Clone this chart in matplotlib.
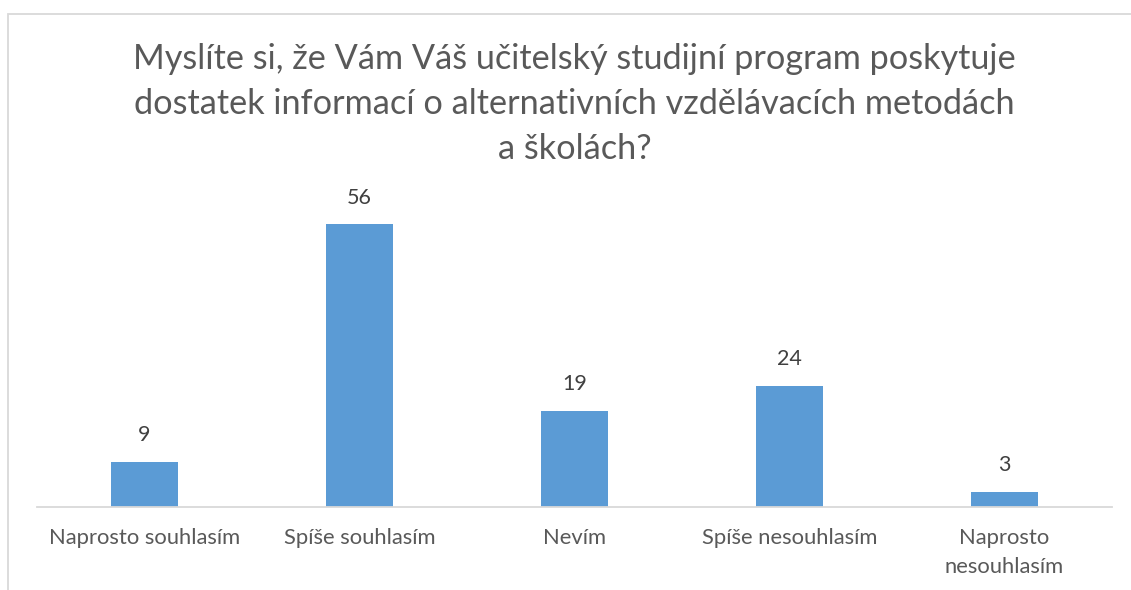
import matplotlib
matplotlib.use("Agg")
import matplotlib.pyplot as plt
from matplotlib.patches import Rectangle

categories = ["Naprosto souhlasím", "Spíše souhlasím", "Nevím", "Spíše nesouhlasím", "Naprosto\nnesouhlasím"]
values = [9, 56, 19, 24, 3]
title = "Myslíte si, že Vám Váš učitelský studijní program poskytuje\ndostatek informací o alternativních vzdělávacích metodách\na školách?"

W, H = 1131, 590
plt.rcParams['font.family'] = ['Lato', 'DejaVu Sans']
fig = plt.figure(figsize=(W/100, H/100), dpi=100)
fig.patch.set_facecolor('white')

ax = fig.add_axes([37/W, 1-507/H, (1112-37)/W, 303/H])
x = list(range(len(categories)))
bars = ax.bar(x, values, width=0.31, color='#5B9BD5', zorder=2)
ax.set_xlim(-0.5, len(categories)-0.5)
ax.set_ylim(0, 60)
for s in ['top', 'right', 'left']:
    ax.spines[s].set_visible(False)
ax.spines['bottom'].set_color('#D9D9D9')
ax.spines['bottom'].set_linewidth(1.3)
ax.set_yticks([])
ax.set_xticks(x)
ax.set_xticklabels(categories, fontsize=15.8, color='#595959', linespacing=1.55)
ax.tick_params(axis='x', length=0, pad=15)

for xi, v in zip(x, values):
    ax.annotate(str(v), (xi, v), xytext=(0, 12), textcoords='offset points',
                ha='center', va='bottom', fontsize=15.5, color='#404040')

fig.text(574.5/W, 1-43/H, title, ha='center', va='top', fontsize=24.7,
         color='#595959', linespacing=1.5)

rect = Rectangle((7.5/W, -0.05), 1.1, (H-13.5)/H + 0.05, transform=fig.transFigure,
                 fill=False, edgecolor='#D9D9D9', linewidth=1.3, clip_on=False)
fig.patches.append(rect)

fig.savefig('out.png', dpi=100, facecolor='white')
